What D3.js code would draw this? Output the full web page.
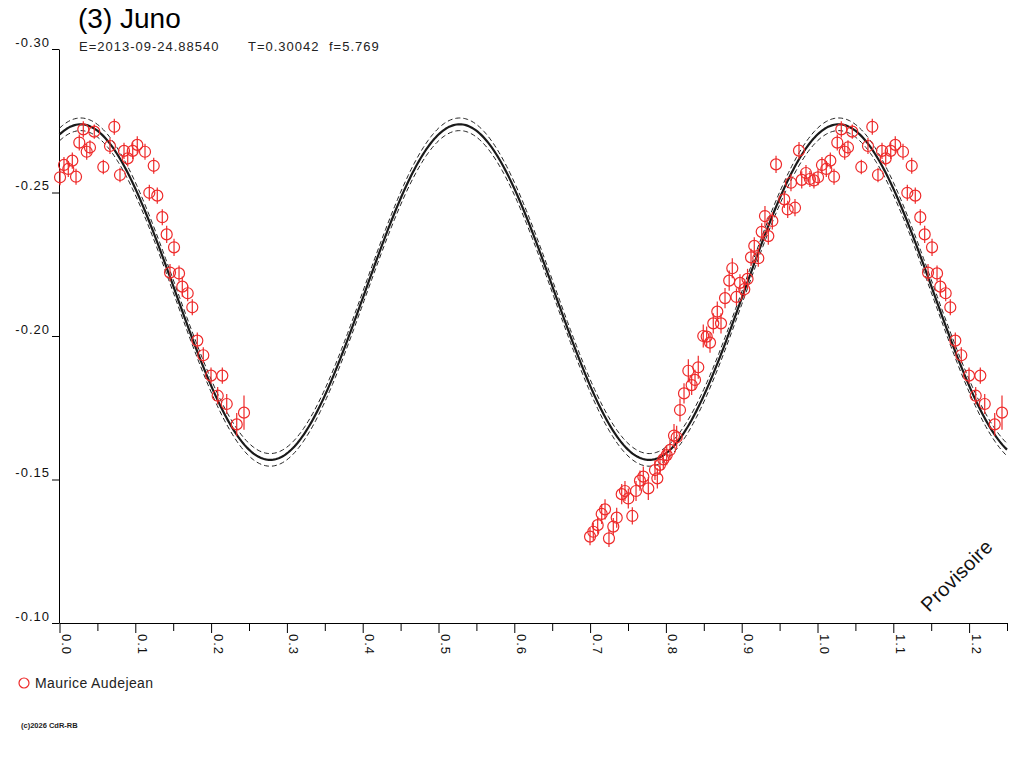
<!DOCTYPE html>
<html>
<head>
<meta charset="utf-8">
<script src="https://cdn.jsdelivr.net/npm/d3@7"></script>
<style>
  body { margin: 0; background: #fff; }
  text { font-family: "Liberation Sans", Arial, sans-serif; }
</style>
</head>
<body>
<svg id="chart"></svg>
<script>
// phase / magnitude points (Maurice Audejean)
const phases = [
  0.0007, 0.0059, 0.0116, 0.0169, 0.0218, 0.0261, 0.0314, 0.0359, 0.0402, 0.0459,
  0.0578, 0.0666, 0.0723, 0.0798, 0.0851, 0.0900, 0.0966, 0.1026, 0.1128, 0.1243,
  0.1185, 0.1290, 0.1356, 0.1414, 0.1511, 0.1458, 0.1577, 0.1620, 0.1691, 0.1752,
  0.1818, 0.1897, 0.1999, 0.2148, 0.2087, 0.2206, 0.2338, 0.2434,
  0.6999, 0.7042, 0.7100, 0.7153, 0.7197, 0.7249, 0.7306, 0.7351, 0.7417, 0.7460,
  0.7504, 0.7557, 0.7606, 0.7658, 0.7702, 0.7768, 0.7856, 0.7887, 0.7922, 0.7966,
  0.8011, 0.8054, 0.8107, 0.8142, 0.8186, 0.8239, 0.8296, 0.8340, 0.8384, 0.8427,
  0.8493, 0.8538, 0.8582, 0.8625, 0.8678, 0.8727, 0.8780, 0.8835, 0.8876, 0.8931,
  0.8977, 0.9034, 0.9077, 0.9123, 0.9166, 0.9219, 0.9264, 0.9307, 0.9351, 0.9404,
  0.9453, 0.9562, 0.9607, 0.9650, 0.9703, 0.9756, 0.9792, 0.9848, 0.9900, 0.9953
];
const mags = [
  -0.2553, -0.2596, -0.2582, -0.2611, -0.2555, -0.2674, -0.2720, -0.2642, -0.2657, -0.2712,
  -0.2589, -0.2662, -0.2729, -0.2561, -0.2645, -0.2619, -0.2645, -0.2666, -0.2642, -0.2593,
  -0.2499, -0.2489, -0.2414, -0.2354, -0.2309, -0.2221, -0.2218, -0.2172, -0.2149, -0.2100,
  -0.1984, -0.1933, -0.1862, -0.1862, -0.1792, -0.1763, -0.1692, -0.1733,
  -0.1301, -0.1318, -0.1341, -0.1380, -0.1396, -0.1295, -0.1336, -0.1367, -0.1449, -0.1460,
  -0.1434, -0.1373, -0.1460, -0.1496, -0.1510, -0.1469, -0.1533, -0.1504, -0.1551, -0.1570,
  -0.1585, -0.1603, -0.1653, -0.1647, -0.1742, -0.1800, -0.1879, -0.1829, -0.1847, -0.1891,
  -0.2000, -0.1998, -0.1977, -0.2044, -0.2085, -0.2044, -0.2132, -0.2193, -0.2236, -0.2136,
  -0.2185, -0.2163, -0.2199, -0.2274, -0.2314, -0.2271, -0.2363, -0.2418, -0.2348, -0.2401,
  -0.2598, -0.2476, -0.2441, -0.2534, -0.2447, -0.2646, -0.2544, -0.2568, -0.2547, -0.2542
];
const errs = [
  0.0028, 0.0028, 0.0028, 0.0028, 0.0028, 0.0028, 0.0028, 0.0028, 0.0025, 0.0025,
  0.0025, 0.0028, 0.0028, 0.0025, 0.0028, 0.0028, 0.0028, 0.0030, 0.0028, 0.0028,
  0.0028, 0.0028, 0.0028, 0.0030, 0.0030, 0.0030, 0.0028, 0.0035, 0.0028, 0.0028,
  0.0028, 0.0028, 0.0028, 0.0028, 0.0030, 0.0035, 0.0040, 0.0060,
  0.0030, 0.0030, 0.0030, 0.0035, 0.0035, 0.0030, 0.0030, 0.0035, 0.0035, 0.0035,
  0.0035, 0.0030, 0.0035, 0.0035, 0.0035, 0.0040, 0.0035, 0.0035, 0.0035, 0.0035,
  0.0035, 0.0035, 0.0040, 0.0040, 0.0040, 0.0035, 0.0040, 0.0035, 0.0035, 0.0040,
  0.0040, 0.0035, 0.0035, 0.0035, 0.0035, 0.0035, 0.0035, 0.0035, 0.0035, 0.0030,
  0.0030, 0.0030, 0.0035, 0.0030, 0.0030, 0.0030, 0.0030, 0.0035, 0.0030, 0.0030,
  0.0030, 0.0030, 0.0030, 0.0030, 0.0030, 0.0030, 0.0030, 0.0028, 0.0028, 0.0028
];

// Fourier fit: mean + sum(cos/sin harmonics), 1-sigma envelope
const fitMean = -0.2153;
const harmonicCos = [0.0, -0.0549];
const harmonicSin = [0.0, -0.0201];
const fitSigma = 0.0022;

const xTicks = [0.0, 0.1, 0.2, 0.3, 0.4, 0.5, 0.6, 0.7, 0.8, 0.9, 1.0, 1.1, 1.2];
const xTickLabels = ["0.0", "0.1", "0.2", "0.3", "0.4", "0.5", "0.6", "0.7", "0.8", "0.9", "1.0", "1.1", "1.2"];
const xMinorTicks = [0.05, 0.15, 0.25, 0.35, 0.45, 0.55, 0.65, 0.75, 0.85, 0.95, 1.05, 1.15, 1.25];
const yTicks = [-0.30, -0.25, -0.20, -0.15, -0.10];
const yTickLabels = ["-0.30", "-0.25", "-0.20", "-0.15", "-0.10"];

const red = "#ee2a2a";

const svg = d3.select('#chart')
    .attr("width", 1024)
    .attr("height", 768);

const x = d3.scaleLinear().domain([0, 1.25]).range([59.5, 1007]);
const y = d3.scaleLinear().domain([-0.30, -0.10]).range([49, 623]);

// title
svg.append("text")
  .attr("x", 78).attr("y", 28)
  .style("font-size", "28px")
  .text("(3) Juno");

var sub = svg.append("text")
  .attr("y", 51)
  .style("font-size", "13px")
  .style("letter-spacing", "1px")
  .style("fill", "#222");
sub.append("tspan").attr("x", 79).text("E=2013-09-24.88540");
sub.append("tspan").attr("x", 248).text("T=0.30042");
sub.append("tspan").attr("x", 329).text("f=5.769");

// y axis
var yAxis = svg.append("g")
  .attr("transform", "translate(59,0)")
  .call(d3.axisLeft(y).tickValues(yTicks).tickSize(7).tickSizeOuter(0)
    .tickFormat(function(d, i) { return yTickLabels[i]; }));
yAxis.selectAll("text")
  .attr("x", -9).attr("dy", "-0.2em")
  .style("font-size", "13px").style("letter-spacing", "1px")
  .style("font-family", "'Liberation Sans', Arial, sans-serif")
  .style("fill", "#111");

// x axis
var xAxis = svg.append("g")
  .attr("transform", "translate(0,623)")
  .call(d3.axisBottom(x).tickValues(xTicks).tickSize(10).tickSizeOuter(0)
    .tickFormat(function(d, i) { return xTickLabels[i]; }));
xAxis.selectAll("text")
  .attr("y", 0).attr("dy", 0)
  .attr("transform", "translate(2,11) rotate(90)")
  .attr("text-anchor", "start")
  .style("font-size", "13px").style("letter-spacing", "1px")
  .style("font-family", "'Liberation Sans', Arial, sans-serif")
  .style("fill", "#111");

svg.append("g")
  .attr("transform", "translate(0,623)")
  .call(d3.axisBottom(x).tickValues(xMinorTicks).tickSize(8).tickSizeOuter(0).tickFormat(""))
  .select(".domain").remove();

svg.selectAll(".domain, .tick line").attr("stroke", "#000");

// fit curve + envelope
var curvePhases = d3.range(0, 1.2501, 0.002);
function model(p) {
  var m = fitMean;
  for (var k = 0; k < harmonicCos.length; k++) {
    m += harmonicCos[k] * Math.cos(2 * Math.PI * (k + 1) * p) + harmonicSin[k] * Math.sin(2 * Math.PI * (k + 1) * p);
  }
  return m;
}
var line = function(off) {
  return d3.line()
    .x(function(p) { return x(p); })
    .y(function(p) { return y(model(p) + off); })(curvePhases);
};
[-fitSigma, fitSigma].forEach(function(off) {
  svg.append("path")
    .attr("d", line(off))
    .attr("fill", "none")
    .attr("stroke", "#222")
    .attr("stroke-width", 1)
    .attr("stroke-dasharray", "5,3");
});
svg.append("path")
  .attr("d", line(0))
  .attr("fill", "none")
  .attr("stroke", "#1a1a1a")
  .attr("stroke-width", 2.2);

// points, repeated one cycle further when they fit in the window
var pts = [];
phases.forEach(function(p, i) {
  pts.push({p: p, m: mags[i], e: errs[i]});
  if (p + 1 <= 1.25) pts.push({p: p + 1, m: mags[i], e: errs[i]});
});

var dots = svg.append("g").selectAll("g.pt")
  .data(pts)
  .enter()
  .append("g");
dots.append("line")
  .attr("x1", function(d) { return x(d.p); })
  .attr("x2", function(d) { return x(d.p); })
  .attr("y1", function(d) { return y(d.m - d.e); })
  .attr("y2", function(d) { return y(d.m + d.e); })
  .attr("stroke", red)
  .attr("stroke-width", 1.2);
dots.append("circle")
  .attr("cx", function(d) { return x(d.p); })
  .attr("cy", function(d) { return y(d.m); })
  .attr("r", 5.5)
  .attr("fill", "none")
  .attr("stroke", red)
  .attr("stroke-width", 1.2);

// watermark
svg.append("text")
  .attr("transform", "translate(929,613) rotate(-45)")
  .style("font-size", "20px")
  .style("letter-spacing", "0.3px")
  .style("fill", "#111")
  .text("Provisoire");

// legend
svg.append("circle")
  .attr("cx", 24).attr("cy", 683).attr("r", 5)
  .attr("fill", "none").attr("stroke", red).attr("stroke-width", 1.2);
svg.append("text")
  .attr("x", 35).attr("y", 688)
  .style("font-size", "14px").style("letter-spacing", "0.4px")
  .style("fill", "#222")
  .text("Maurice Audejean");

svg.append("text")
  .attr("x", 21).attr("y", 728)
  .style("font-size", "7.5px").style("font-weight", "bold")
  .style("fill", "#222")
  .text("(c)2026 CdR-RB");
</script>
</body>
</html>
